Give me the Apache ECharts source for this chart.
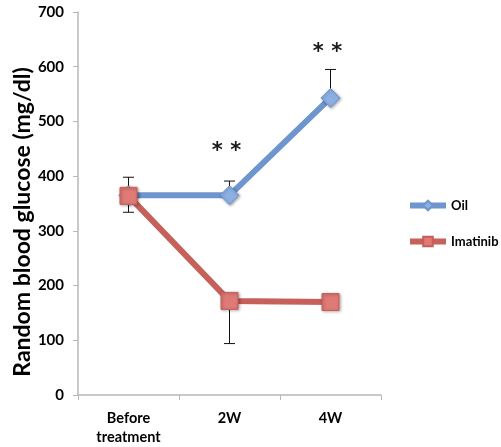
<!DOCTYPE html>
<html><head><meta charset="utf-8">
<script src="https://cdn.jsdelivr.net/npm/echarts@6/dist/echarts.min.js"></script>
<style>html,body{margin:0;padding:0;background:#fff}#c{width:501px;height:447px}</style>
</head><body><div id="c"></div>
<script>
var categories = ['Before\ntreatment', '2W', '4W'];
var oilValues = [365, 365, 543];
var oilErrPlus = [33, 26, 52];
var imatinibValues = [364, 172, 170];
var imatinibErrMinus = [30, 78, 0];
var sigLabels = ['', '**', '**'];
var sigValues = [null, 450, 632];
var yTicks = [0, 100, 200, 300, 400, 500, 600, 700];

var FONT = 'Lato';
var chart = echarts.init(document.getElementById('c'), null, {renderer: 'canvas'});

function errSeries(name, vals, errs, dir) {
  var data = vals.map(function (v, i) { return [i, v, dir > 0 ? v + errs[i] : v - errs[i]]; });
  return {
    type: 'custom', name: name + ' err', z: 1, silent: true,
    data: data,
    renderItem: function (params, api) {
      var x = api.value(0);
      var p0 = api.coord([x, api.value(1)]);
      var p1 = api.coord([x, api.value(2)]);
      var hw = 5.5;
      return {
        type: 'group',
        children: [
          {type: 'line', shape: {x1: p0[0], y1: p0[1], x2: p1[0], y2: p1[1]}, style: {stroke: '#111', lineWidth: 1}},
          {type: 'line', shape: {x1: p1[0] - hw, y1: p1[1], x2: p1[0] + hw, y2: p1[1]}, style: {stroke: '#111', lineWidth: 1}}
        ]
      };
    }
  };
}

var sigData = [];
sigValues.forEach(function (v, i) { if (v !== null) sigData.push([i, v, sigLabels[i]]); });

var option = {
  animation: false,
  backgroundColor: '#fff',
  grid: {left: 78, right: 120, top: 12, bottom: 49},
  legend: {
    orient: 'vertical', left: 407, top: 199, itemGap: 23, padding: 0,
    itemWidth: 36, itemHeight: 12,
    lineStyle: {width: 6},
    textStyle: {fontFamily: FONT, fontWeight: 'bold', fontSize: 13, color: '#000'},
    data: ['Oil', 'Imatinib']
  },
  xAxis: {
    type: 'category', data: categories, boundaryGap: true,
    axisLine: {lineStyle: {color: '#b8b8b8', width: 1.5}},
    axisTick: {show: true, length: 5, lineStyle: {color: '#b8b8b8'}},
    axisLabel: {fontFamily: FONT, fontWeight: 'bold', fontSize: 14.5, color: '#000', margin: 14, lineHeight: 19}
  },
  yAxis: {
    type: 'value', min: 0, max: 700, interval: 100,
    axisLine: {show: true, lineStyle: {color: '#b8b8b8', width: 1.5}},
    axisTick: {show: true, length: 5, lineStyle: {color: '#b8b8b8'}},
    splitLine: {show: false},
    axisLabel: {fontFamily: FONT, fontWeight: 'bold', fontSize: 15, color: '#000', margin: 14,
      formatter: function (v) { return yTicks.indexOf(v) >= 0 ? String(v) : ''; }}
  },
  graphic: [{
    type: 'text', x: 23, y: 222, rotation: Math.PI / 2,
    style: {text: 'Random blood glucose (mg/dl)', fontFamily: FONT, fontWeight: 'bold', fontSize: 23,
      fill: '#000', align: 'center', verticalAlign: 'middle'}
  }],
  series: [
    errSeries('Oil', oilValues, oilErrPlus, 1),
    errSeries('Imatinib', imatinibValues, imatinibErrMinus, -1),
    {
      name: 'Oil', type: 'line', data: oilValues, z: 3,
      symbol: 'diamond', symbolSize: 19,
      lineStyle: {color: '#6e95cd', width: 6},
      itemStyle: {color: '#8db0e3', borderColor: '#6e95cd', borderWidth: 1, shadowBlur: 3, shadowColor: 'rgba(0,0,0,0.35)', shadowOffsetX: 1, shadowOffsetY: 1}
    },
    {
      name: 'Imatinib', type: 'line', data: imatinibValues, z: 4,
      symbol: 'rect', symbolSize: 17,
      lineStyle: {color: '#c6605b', width: 6},
      itemStyle: {color: '#e07a76', borderColor: '#c85e59', borderWidth: 1, shadowBlur: 3, shadowColor: 'rgba(0,0,0,0.35)', shadowOffsetX: 1, shadowOffsetY: 1}
    },
    {
      type: 'custom', name: 'sig', silent: true, z: 5, data: sigData,
      renderItem: function (params, api) {
        var p = api.coord([api.value(0), api.value(1)]);
        return {type: 'text', x: p[0] - 3, y: p[1] + 3,
          style: {text: sigData[params.dataIndex][2].split('').join(' '), fontFamily: 'DejaVu Sans', fontWeight: 'bold', fontSize: 21, fill: '#1a1a1a', align: 'center', verticalAlign: 'middle'}};
      }
    }
  ]
};
chart.setOption(option);
</script></body></html>
